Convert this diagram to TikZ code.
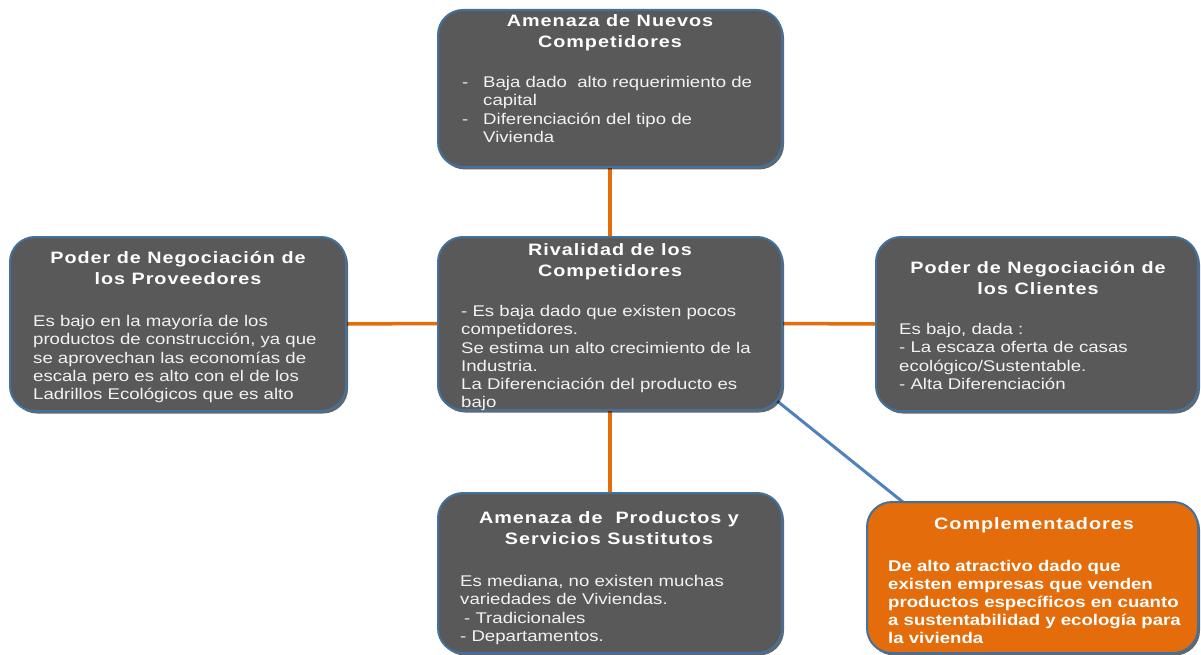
\documentclass[tikz,border=0pt]{standalone}
\usepackage{fontspec}
\setmainfont{Liberation Sans}[FakeStretch=1.2]
\newfontfamily\ttlfont{Liberation Sans}[FakeStretch=1.2,LetterSpace=6]
\usetikzlibrary{shadows,backgrounds}
\definecolor{boxgray}{HTML}{595959}
\definecolor{boxblue}{HTML}{41719C}
\definecolor{lineorange}{HTML}{E46C0A}
\definecolor{lineblue}{HTML}{4F81BD}
\definecolor{bodytext}{HTML}{F2F2F2}
\begin{document}
\begin{tikzpicture}[x=1pt,y=-1pt,
  box/.style={draw=boxblue, line width=2pt, fill=boxgray, rounded corners=25pt, inner sep=0pt,
    drop shadow={shadow xshift=2pt, shadow yshift=-2.5pt, opacity=0.6, fill=black}},
  obox/.style={box, fill=lineorange},
  title/.style={text=white, align=center, inner sep=0pt, anchor=north,
    font=\ttlfont\bfseries\fontsize{16.5}{21}\selectfont},
  body/.style={text=bodytext, align=left, inner sep=0pt, anchor=north west,
    font=\fontsize{15.5}{18.3}\selectfont},
  bbody/.style={body, text=white, font=\bfseries\fontsize{15.5}{17.9}\selectfont},
  oline/.style={draw=lineorange, line width=3.5pt},
  bline/.style={draw=lineblue, line width=3pt}
]
\useasboundingbox (0,0) rectangle (1201,655);

% boxes
\node[box, minimum width=344pt, minimum height=157pt] (top) at (610,88.5) {};
\node[box, minimum width=336pt, minimum height=174pt] (left) at (178,324) {};
\node[box, minimum width=344pt, minimum height=173pt] (center) at (610,323.5) {};
\node[box, minimum width=322pt, minimum height=174pt] (right) at (1037,324) {};
\node[box, minimum width=344pt, minimum height=160pt] (bottom) at (610,573) {};
\node[obox, minimum width=331pt, minimum height=151pt] (compl) at (1032.5,577.5) {};

% connectors
\begin{scope}[on background layer]
\draw[oline] (top.south) -- (center.north);
\draw[oline] (left.east) -- (center.west);
\draw[oline] (center.east) -- (right.west);
\draw[oline] (center.south) -- (bottom.north);
\draw[bline] ([xshift=-32pt,yshift=31pt]center.south east) -- ([xshift=43pt,yshift=-6pt]compl.north west);
\end{scope}

% texts
\node[title] (tT) at (610,14) {Amenaza de Nuevos\\Competidores};
\node[body] (tB) at (462,76) {\makebox[21pt][l]{-}Baja dado\ \ alto requerimiento de\\\hspace*{21pt}capital\\\makebox[21pt][l]{-}Diferenciación del tipo de\\\hspace*{21pt}Vivienda};

\node[title] (lT) at (178,251) {Poder de Negociación de\\los Proveedores};
\node[body] (lB) at (33,315) {Es bajo en la mayoría de los\\productos de construcción, ya que\\se aprovechan las economías de\\escala pero es alto con el de los\\Ladrillos Ecológicos que es alto};

\node[title] (cT) at (610,243) {Rivalidad de los\\Competidores};
\node[body] (cB) at (461,305) {- Es baja dado que existen pocos\\competidores.\\Se estima un alto crecimiento de la\\Industria.\\La Diferenciación del producto es\\bajo};

\node[title] (rT) at (1038,261) {Poder de Negociación de\\los Clientes};
\node[body] (rB) at (899,323) {Es bajo, dada :\\- La escaza oferta de casas\\ecológico/Sustentable.\\- Alta Diferenciación};

\node[title] (bT) at (609,511) {Amenaza de\ \ Productos y\\Servicios Sustitutos};
\node[body] (bB) at (460,575) {Es mediana, no existen muchas\\variedades de Viviendas.\\\hspace*{4pt}- Tradicionales\\- Departamentos.};

\node[title] (oT) at (1034,517) {Complementadores};
\node[bbody] (oB) at (888,560) {De alto atractivo dado que\\existen empresas que venden\\productos específicos en cuanto\\a sustentabilidad y ecología para\\la vivienda};
\end{tikzpicture}
\end{document}
